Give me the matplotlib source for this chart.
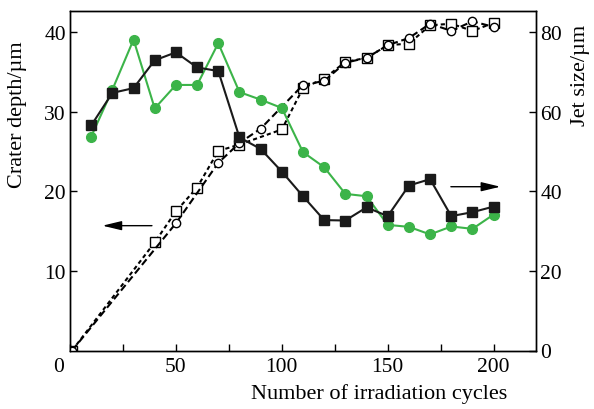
import matplotlib
matplotlib.use("Agg")
import matplotlib.pyplot as plt
from matplotlib.transforms import ScaledTranslation

plt.rcParams['font.family'] = ['Liberation Serif', 'DejaVu Serif']
plt.rcParams['font.size'] = 15.5

# crater depth (left axis), dashed open markers
depthSqX = [1, 40, 50, 60, 70, 80, 100, 110, 120, 130, 140, 150, 160, 170, 180, 190, 200]
depthSqY = [0, 13.6, 17.5, 20.5, 25.1, 25.9, 27.8, 33.0, 34.2, 36.3, 36.8, 38.4, 38.6, 40.9, 41.1, 40.2, 41.2]
depthCiX = [1, 50, 70, 80, 90, 110, 120, 130, 140, 150, 160, 170, 180, 190, 200]
depthCiY = [0, 16.0, 23.6, 26.1, 27.9, 33.4, 33.9, 36.2, 36.8, 38.4, 39.3, 41.1, 40.2, 41.4, 40.7]

# jet size (right axis), solid filled markers
jetX = [10, 20, 30, 40, 50, 60, 70, 80, 90, 100, 110, 120, 130, 140, 150, 160, 170, 180, 190, 200]
jetBlack = [56.6, 64.8, 66.0, 73.0, 75.0, 71.2, 70.3, 53.6, 50.7, 45.0, 38.8, 32.8, 32.7, 36.0, 33.8, 41.5, 43.1, 33.8, 34.8, 36.2]
jetGreen = [53.8, 65.6, 78.2, 60.9, 66.8, 66.8, 77.3, 65.0, 63.1, 61.0, 49.9, 46.1, 39.4, 38.8, 31.6, 31.1, 29.2, 31.2, 30.6, 34.2]

GREEN = '#3cb449'

def main():
    fig = plt.figure(figsize=(5.94, 4.10), dpi=100)
    ax = fig.add_axes([70/594, 1 - 351.5/410, 466/594, 339.5/410])
    ax2 = ax.twinx()

    ax.plot(depthSqX, depthSqY, color='black', lw=1.5, ls=(0, (2.0, 1.5)), marker='s', ms=6.5,
            mfc='white', mec='black', mew=1.0, zorder=3)
    ax.plot(depthCiX, depthCiY, color='black', lw=1.5, ls=(0, (3.5, 1.8)), marker='o', ms=6,
            mfc='white', mec='black', mew=1.0, zorder=3)

    ax2.plot(jetX, jetGreen, color=GREEN, lw=1.5, marker='o', ms=7, mfc=GREEN, mec=GREEN)
    ax2.plot(jetX, jetBlack, color='#1a1a1a', lw=1.5, marker='s', ms=7, mfc='#1a1a1a', mec='#1a1a1a')

    ax.set_xlim(0, 220)
    ax.set_ylim(0, 42.7)
    ax2.set_ylim(0, 85.4)

    ax.set_xticks([0, 50, 100, 150, 200])
    ax.set_xticks([25, 75, 125, 175], minor=True)
    ax.set_yticks([10, 20, 30, 40])
    ax2.set_yticks([0, 20, 40, 60, 80])

    ax.tick_params(axis='both', which='both', direction='in', length=5, width=1)
    ax.tick_params(axis='x', pad=5)
    ax.tick_params(axis='y', pad=3)
    ax2.tick_params(axis='y', direction='in', length=5, width=1, pad=3)
    for a in (ax, ax2):
        for s in a.spines.values():
            s.set_linewidth(1.0)

    # the "0" on the x axis sits a bit left of its tick
    fig.canvas.draw()
    lab0 = ax.get_xticklabels()[0]
    lab0.set_transform(lab0.get_transform() + ScaledTranslation(-0.11, 0, fig.dpi_scale_trans))

    ax.set_xlabel('Number of irradiation cycles', fontsize=16)
    ax.xaxis.set_label_coords(0.663, -0.095)
    fig.text(18/594, 1 - 115/410, 'Crater depth/µm', rotation=90, ha='center', va='center', fontsize=16)
    fig.text(580/594, 1 - 75/410, 'Jet size/µm', rotation=90, ha='center', va='center', fontsize=16)

    arrowStyle = dict(arrowstyle='-|>,head_length=0.75,head_width=0.18', color='black', lw=1.0)
    ax.annotate('', xy=(14, 15.7), xytext=(40, 15.7), arrowprops=arrowStyle)
    ax.annotate('', xy=(204.5, 20.6), xytext=(178.5, 20.6), arrowprops=arrowStyle)

    fig.savefig('out.png', dpi=100)

if __name__ == '__main__':
    main()
